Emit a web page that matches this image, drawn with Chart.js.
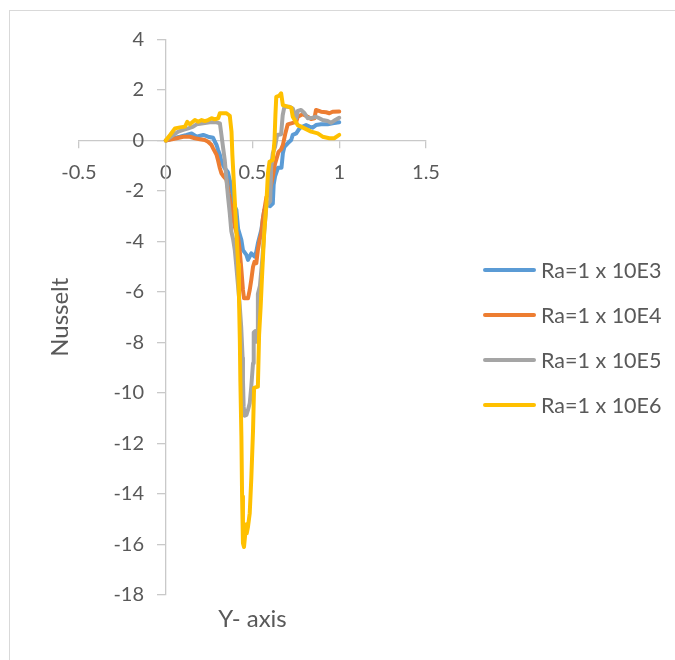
<!DOCTYPE html>
<html>
<head>
<meta charset="utf-8">
<script src="https://cdn.jsdelivr.net/npm/chart.js@4/dist/chart.umd.min.js"></script>
<style>
  html, body { margin: 0; padding: 0; background: #ffffff; overflow: hidden; }
  #wrap { position: relative; width: 675px; height: 660px; overflow: hidden; }
  #frame { position: absolute; left: 9px; top: 10px; width: 800px; height: 800px; border: 1px solid #d9d9d9; }
  #c { position: absolute; left: 0; top: 0; }
</style>
</head>
<body>
<div id="wrap">
  <div id="frame"></div>
  <canvas id="c" width="675" height="660"></canvas>
</div>
<script>
// Local Nusselt number along the wall (x = position on the Y axis, y = Nu)
const seriesLabels = ['Ra=1 x 10E3', 'Ra=1 x 10E4', 'Ra=1 x 10E5', 'Ra=1 x 10E6'];
const seriesColors = ['#5B9BD5', '#ED7D31', '#A5A5A5', '#FFC000'];

const ra1e3 = [[0,0],[0.044,0.09],[0.082,0.15],[0.12,0.22],[0.149,0.28],[0.178,0.15],[0.216,0.22],[0.244,0.15],[0.273,0.11],[0.283,-0.05],[0.293,-0.18],[0.302,-0.38],[0.312,-0.57],[0.321,-0.83],[0.338,-1.08],[0.358,-1.25],[0.37,-1.6],[0.383,-2.08],[0.395,-2.58],[0.407,-2.75],[0.417,-3.5],[0.436,-3.94],[0.445,-4.34],[0.465,-4.53],[0.474,-4.73],[0.493,-4.47],[0.512,-4.6],[0.522,-4.4],[0.531,-4.07],[0.541,-3.8],[0.551,-3.54],[0.56,-3.1],[0.568,-2.75],[0.585,-2.55],[0.602,-2.6],[0.617,-2.5],[0.622,-1.75],[0.63,-1.42],[0.647,-1.08],[0.667,-1.08],[0.675,-0.51],[0.684,-0.25],[0.703,-0.11],[0.723,0.02],[0.732,0.22],[0.752,0.28],[0.771,0.48],[0.789,0.55],[0.809,0.61],[0.828,0.55],[0.847,0.51],[0.866,0.61],[0.895,0.64],[0.933,0.64],[0.962,0.68],[1.0,0.72]];

const ra1e4 = [[0,0],[0.063,0.09],[0.101,0.15],[0.139,0.15],[0.168,0.09],[0.197,0.05],[0.225,0.02],[0.244,-0.05],[0.264,-0.18],[0.273,-0.31],[0.283,-0.44],[0.293,-0.57],[0.302,-0.8],[0.312,-1.1],[0.321,-1.3],[0.331,-1.4],[0.35,-1.55],[0.363,-2.09],[0.378,-2.62],[0.398,-3.41],[0.417,-3.85],[0.426,-4.34],[0.436,-5.13],[0.445,-5.92],[0.451,-6.25],[0.474,-6.25],[0.484,-5.92],[0.493,-5.52],[0.503,-5.0],[0.512,-4.8],[0.522,-4.86],[0.531,-4.34],[0.541,-3.94],[0.551,-3.67],[0.56,-3.08],[0.58,-2.25],[0.6,-2.0],[0.617,-1.42],[0.63,-0.92],[0.65,-0.45],[0.665,-0.35],[0.675,-0.18],[0.69,0.3],[0.703,0.64],[0.723,0.68],[0.752,0.74],[0.761,0.94],[0.789,1.04],[0.818,0.94],[0.838,0.85],[0.857,0.88],[0.866,1.21],[0.895,1.14],[0.924,1.12],[0.943,1.08],[0.962,1.14],[1.0,1.15]];

const ra1e5 = [[0,0],[0.044,0.22],[0.072,0.35],[0.101,0.42],[0.13,0.48],[0.158,0.55],[0.178,0.64],[0.216,0.68],[0.254,0.72],[0.293,0.72],[0.312,0.68],[0.321,0.22],[0.331,-0.31],[0.34,-0.77],[0.35,-1.56],[0.359,-2.23],[0.369,-2.88],[0.378,-3.6],[0.388,-3.9],[0.398,-4.34],[0.407,-5.0],[0.417,-5.79],[0.425,-6.4],[0.435,-7.4],[0.443,-8.6],[0.445,-9.49],[0.449,-10.54],[0.455,-10.9],[0.465,-10.87],[0.474,-10.67],[0.484,-10.41],[0.493,-9.75],[0.503,-8.82],[0.507,-7.6],[0.515,-7.55],[0.522,-7.97],[0.528,-7.9],[0.531,-6.08],[0.543,-5.75],[0.556,-4.75],[0.568,-3.58],[0.58,-2.58],[0.602,-2.4],[0.608,-1.04],[0.617,-0.51],[0.63,-0.25],[0.642,0.22],[0.665,0.25],[0.674,1.0],[0.684,1.34],[0.713,1.34],[0.732,1.27],[0.752,0.88],[0.761,1.17],[0.78,1.21],[0.8,1.08],[0.818,0.88],[0.847,0.9],[0.866,0.94],[0.885,0.88],[0.904,0.81],[0.933,0.77],[0.952,0.7],[0.977,0.81],[1.0,0.9]];

const ra1e6 = [[0,0],[0.025,0.22],[0.053,0.48],[0.082,0.52],[0.111,0.55],[0.124,0.74],[0.139,0.64],[0.168,0.81],[0.187,0.74],[0.207,0.81],[0.225,0.77],[0.244,0.81],[0.264,0.88],[0.283,0.84],[0.302,0.88],[0.312,1.08],[0.35,1.08],[0.369,0.98],[0.379,0.35],[0.384,-0.57],[0.395,-2.0],[0.407,-3.6],[0.417,-4.9],[0.422,-6.2],[0.427,-7.9],[0.43,-9.5],[0.436,-11.7],[0.44,-14.1],[0.445,-15.95],[0.451,-16.1],[0.458,-15.6],[0.465,-15.2],[0.467,-15.55],[0.474,-15.3],[0.484,-14.76],[0.493,-13.4],[0.503,-11.5],[0.509,-9.8],[0.531,-9.75],[0.538,-7.7],[0.547,-6.58],[0.554,-5.52],[0.567,-3.7],[0.579,-2.62],[0.589,-1.3],[0.598,-0.84],[0.617,-0.77],[0.627,0.02],[0.632,1.0],[0.637,1.73],[0.655,1.78],[0.665,1.87],[0.675,1.4],[0.703,1.34],[0.723,1.3],[0.732,0.94],[0.761,0.61],[0.8,0.48],[0.838,0.35],[0.876,0.28],[0.904,0.15],[0.943,0.09],[0.971,0.09],[1.0,0.22]];

const seriesPoints = [ra1e3, ra1e4, ra1e5, ra1e6];

const xTicks = [-0.5, 0, 0.5, 1, 1.5];
const xTickLabels = ['-0.5', '0', '0.5', '1', '1.5'];
const yTicks = [4, 2, 0, -2, -4, -6, -8, -10, -12, -14, -16, -18];
const yTickLabels = ['4', '2', '0', '-2', '-4', '-6', '-8', '-10', '-12', '-14', '-16', '-18'];
const xTitle = 'Y- axis';
const yTitle = 'Nusselt';

const FONT = 'Lato, "Open Sans", sans-serif';
const TEXT = '#595959';
const AXIS = '#c9c9c9';

const datasets = seriesPoints.map((pts, i) => ({
  label: seriesLabels[i],
  data: pts.map(p => ({ x: p[0], y: p[1] })),
  borderColor: seriesColors[i],
  backgroundColor: seriesColors[i],
  borderWidth: 4,
  borderCapStyle: 'round',
  borderJoinStyle: 'round',
  showLine: true,
  pointRadius: 0,
  pointHoverRadius: 0,
  tension: 0,
  order: seriesPoints.length - i
}));

// Axis titles and the series key, drawn beside the plot
const sideText = {
  id: 'sideText',
  afterDraw(chart) {
    const ctx = chart.ctx;
    const a = chart.chartArea;
    ctx.save();
    ctx.fillStyle = TEXT;
    ctx.textAlign = 'center';
    ctx.textBaseline = 'middle';
    ctx.font = '24px ' + FONT;
    ctx.fillText(xTitle, (a.left + a.right) / 2, a.bottom + 24);
    ctx.save();
    ctx.translate(60, (a.top + a.bottom) / 2);
    ctx.rotate(-Math.PI / 2);
    ctx.fillText(yTitle, 0, 0);
    ctx.restore();

    ctx.font = '21.5px ' + FONT;
    ctx.textAlign = 'left';
    chart.data.datasets.forEach((ds, i) => {
      const y = 270 + i * 45;
      ctx.strokeStyle = ds.borderColor;
      ctx.lineWidth = 4;
      ctx.lineCap = 'round';
      ctx.beginPath();
      ctx.moveTo(485, y);
      ctx.lineTo(534, y);
      ctx.stroke();
      ctx.fillStyle = TEXT;
      ctx.fillText(ds.label, 541, y + 1);
    });
    ctx.restore();
  }
};

const setTicks = values => scale => { scale.ticks = values.map(v => ({ value: v })); };

new Chart(document.getElementById('c'), {
  type: 'scatter',
  data: { datasets },
  options: {
    responsive: false,
    animation: false,
    devicePixelRatio: 1,
    layout: { padding: { left: 79, top: 39.5, right: 249, bottom: 65 } },
    plugins: {
      legend: { display: false },
      title: { display: false },
      tooltip: { enabled: false }
    },
    scales: {
      x: {
        type: 'linear',
        position: { y: 0 },
        min: -0.5,
        max: 1.5,
        afterBuildTicks: setTicks(xTicks),
        ticks: {
          color: TEXT, font: { family: FONT, size: 20 }, padding: 13, maxRotation: 0,
          callback: (v, i) => xTickLabels[i]
        },
        grid: { drawOnChartArea: false, drawTicks: true, tickLength: 7, color: AXIS, lineWidth: 1.3 },
        border: { display: true, color: AXIS, width: 1.3 }
      },
      // value axis line and its tick marks, crossing the horizontal axis at 0
      y: {
        type: 'linear',
        position: { x: 0 },
        min: -18,
        max: 4,
        afterBuildTicks: setTicks(yTicks),
        ticks: { display: false },
        grid: { drawOnChartArea: false, drawTicks: true, tickLength: 8, color: AXIS, lineWidth: 1.3 },
        border: { display: true, color: AXIS, width: 1.3 }
      },
      // value labels, set off to the left of the axis line
      yLabels: {
        type: 'linear',
        axis: 'y',
        position: { x: -0.125 },
        min: -18,
        max: 4,
        afterBuildTicks: setTicks(yTicks),
        ticks: {
          color: TEXT, font: { family: FONT, size: 20 },
          callback: (v, i) => yTickLabels[i]
        },
        grid: { display: false, drawTicks: false },
        border: { display: false }
      }
    }
  },
  plugins: [sideText]
});
</script>
</body>
</html>
